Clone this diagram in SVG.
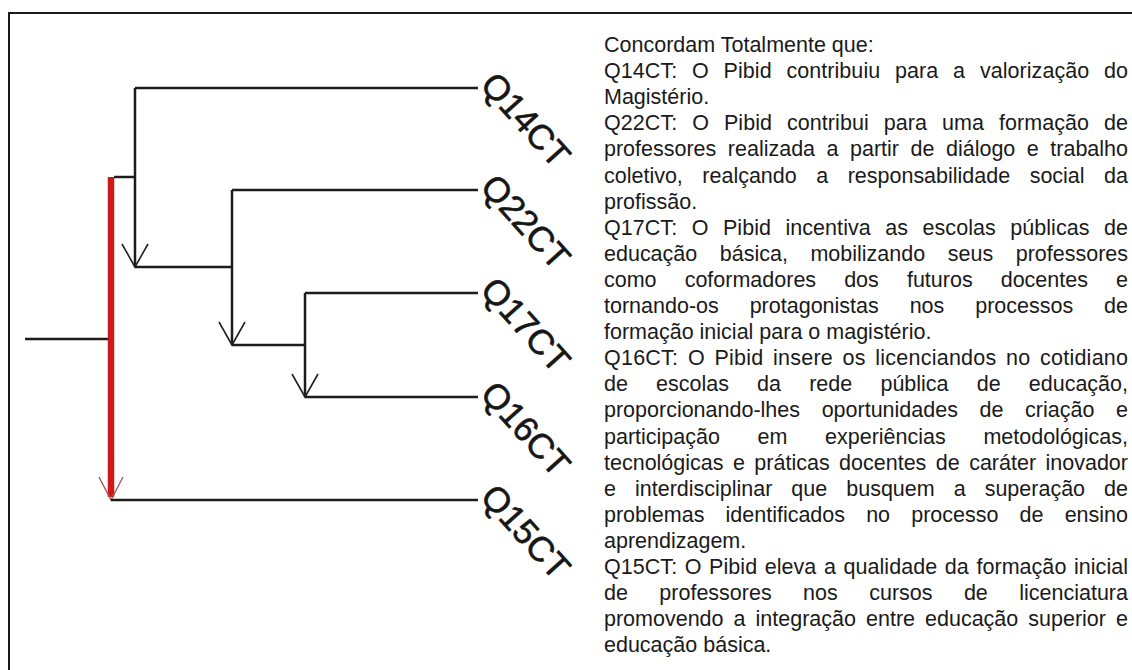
<svg xmlns="http://www.w3.org/2000/svg" width="1132" height="670" viewBox="0 0 1132 670">
  <style>
    .frame { fill: none; stroke: #1a1a1a; stroke-width: 2; }
    .edge { fill: none; stroke: #1c1c1c; stroke-width: 2.5; stroke-linecap: butt; }
    .hl { fill: none; stroke: #d01818; stroke-width: 6.5; stroke-linecap: butt; }
    .leaf { font-family: "Liberation Sans", Arial, sans-serif; font-size: 35px; fill: #161616; stroke: #161616; stroke-width: 0.6; }
    .note { font-family: "Liberation Sans", Arial, sans-serif; font-size: 21.5px; fill: #1a1a1a; }
  </style>
  <defs>
    <marker id="vee" markerUnits="userSpaceOnUse" orient="auto" refX="0" refY="0" markerWidth="40" markerHeight="40" overflow="visible">
      <path d="M-23,-13 L0,0 L-23,13" fill="none" stroke="#222" stroke-width="1.6"/>
    </marker>
    <marker id="vee-red" markerUnits="userSpaceOnUse" orient="auto" refX="0" refY="0" markerWidth="40" markerHeight="40" overflow="visible">
      <path d="M-23,-12 L0,0 L-23,12" fill="none" stroke="#9a5a5a" stroke-width="1.4"/>
    </marker>
  </defs>

  <rect width="1132" height="670" fill="#ffffff"/>
  <!-- outer frame: only the top and left edges fall inside the canvas -->
  <path class="frame" d="M9,680 V13 H1140"/>

  <!-- dendrogram branches -->
  <g id="connectors">
    <path class="edge" d="M25,339 H110"/>
    <path class="hl" d="M111,177 V497"/>
    <path d="M111,470 V500" stroke="none" fill="none" marker-end="url(#vee-red)"/>
    <path class="edge" d="M114,177 H136"/>
    <path class="edge" d="M135,88 H478"/>
    <path class="edge" d="M135,88 V267" marker-end="url(#vee)"/>
    <path class="edge" d="M135,267 H233"/>
    <path class="edge" d="M232,190 H478"/>
    <path class="edge" d="M232,190 V345" marker-end="url(#vee)"/>
    <path class="edge" d="M232,345 H306"/>
    <path class="edge" d="M305,293 H478"/>
    <path class="edge" d="M305,293 V397" marker-end="url(#vee)"/>
    <path class="edge" d="M305,397 H478"/>
    <path class="edge" d="M111,500 H478"/>
  </g>

  <!-- leaves -->
  <g id="Q14CT"><text class="leaf" transform="translate(479,86) rotate(48)">Q14CT</text></g>
  <g id="Q22CT"><text class="leaf" transform="translate(479,188) rotate(48)">Q22CT</text></g>
  <g id="Q17CT"><text class="leaf" transform="translate(479,291) rotate(48)">Q17CT</text></g>
  <g id="Q16CT"><text class="leaf" transform="translate(479,395) rotate(48)">Q16CT</text></g>
  <g id="Q15CT"><text class="leaf" transform="translate(479,498) rotate(48)">Q15CT</text></g>

  <!-- legend: justified paragraphs, width 524 -->
  <g id="legend" class="note">
    <text x="604" y="52">Concordam Totalmente que:</text>
    <text x="604" y="78.1" word-spacing="8.79" textLength="524" lengthAdjust="spacing">Q14CT: O Pibid contribuiu para a valorização do</text>
    <text x="604" y="104.2">Magistério.</text>
    <text x="604" y="130.3" word-spacing="8.97" textLength="524" lengthAdjust="spacing">Q22CT: O Pibid contribui para uma formação de</text>
    <text x="604" y="156.4" word-spacing="5.55" textLength="524" lengthAdjust="spacing">professores realizada a partir de diálogo e trabalho</text>
    <text x="604" y="182.5" word-spacing="13.5" textLength="524" lengthAdjust="spacing">coletivo, realçando a responsabilidade social da</text>
    <text x="604" y="208.6">profissão.</text>
    <text x="604" y="234.7" word-spacing="8.45" textLength="524" lengthAdjust="spacing">Q17CT: O Pibid incentiva as escolas públicas de</text>
    <text x="604" y="260.8" word-spacing="16.58" textLength="524" lengthAdjust="spacing">educação básica, mobilizando seus professores</text>
    <text x="604" y="286.9" word-spacing="22.11" textLength="524" lengthAdjust="spacing">como coformadores dos futuros docentes e</text>
    <text x="604" y="313" word-spacing="24.94" textLength="524" lengthAdjust="spacing">tornando-os protagonistas nos processos de</text>
    <text x="604" y="339.1">formação inicial para o magistério.</text>
    <text x="604" y="365.2" word-spacing="3.36" textLength="524" lengthAdjust="spacing">Q16CT: O Pibid insere os licenciandos no cotidiano</text>
    <text x="604" y="391.3" word-spacing="22.2" textLength="524" lengthAdjust="spacing">de escolas da rede pública de educação,</text>
    <text x="604" y="417.4" word-spacing="15.68" textLength="524" lengthAdjust="spacing">proporcionando-lhes oportunidades de criação e</text>
    <text x="604" y="443.5" word-spacing="31.68" textLength="524" lengthAdjust="spacing">participação em experiências metodológicas,</text>
    <text x="604" y="469.6" word-spacing="3.48" textLength="524" lengthAdjust="spacing">tecnológicas e práticas docentes de caráter inovador</text>
    <text x="604" y="495.7" word-spacing="13.04" textLength="524" lengthAdjust="spacing">e interdisciplinar que busquem a superação de</text>
    <text x="604" y="521.8" word-spacing="15.17" textLength="524" lengthAdjust="spacing">problemas identificados no processo de ensino</text>
    <text x="604" y="547.9">aprendizagem.</text>
    <text x="604" y="574" word-spacing="1.58" textLength="524" lengthAdjust="spacing">Q15CT: O Pibid eleva a qualidade da formação inicial</text>
    <text x="604" y="600.1" word-spacing="25.46" textLength="524" lengthAdjust="spacing">de professores nos cursos de licenciatura</text>
    <text x="604" y="626.2" word-spacing="4.08" textLength="524" lengthAdjust="spacing">promovendo a integração entre educação superior e</text>
    <text x="604" y="652.3">educação básica.</text>
  </g>
</svg>
